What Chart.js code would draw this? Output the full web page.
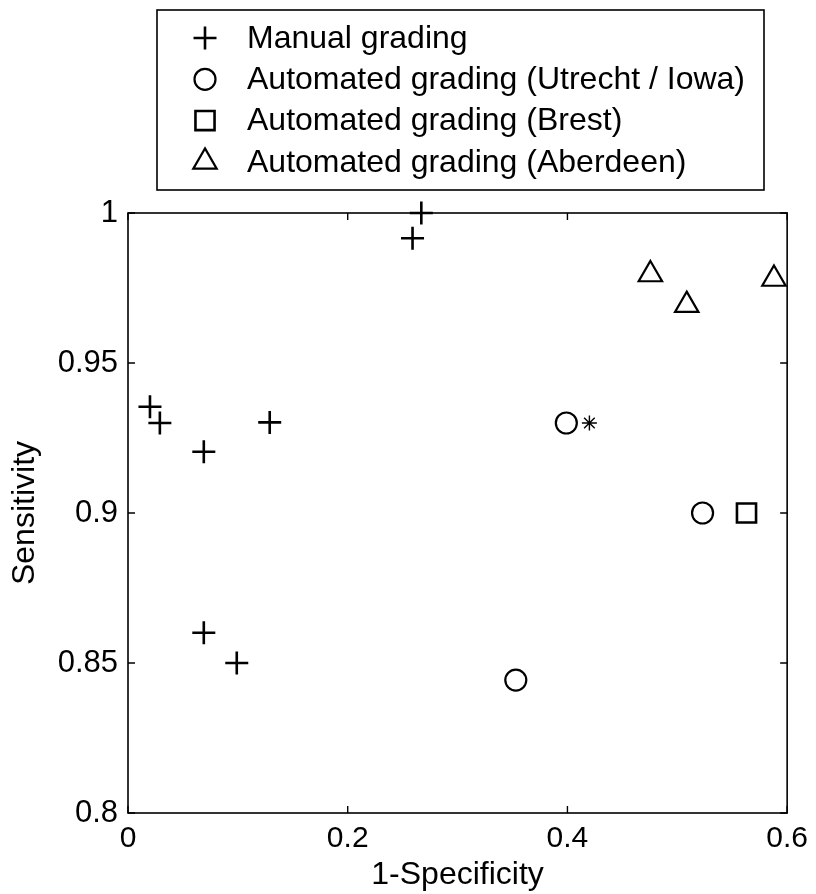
<!DOCTYPE html>
<html>
<head>
<meta charset="utf-8">
<script src="https://cdn.jsdelivr.net/npm/chart.js@4"></script>
<style>
  html, body { margin: 0; padding: 0; background: #fff; }
  #wrap { width: 816px; height: 894px; }
</style>
</head>
<body>
<div id="wrap"><canvas id="chart" width="816" height="894"></canvas></div>
<script>
'use strict';

// values
let manualX = [0.267, 0.259, 0.02, 0.029, 0.069, 0.129, 0.069, 0.099];
let manualY = [1.0, 0.9916, 0.9354, 0.93, 0.9204, 0.9302, 0.8601, 0.85];
let utrechtX = [0.399, 0.523, 0.353];
let utrechtY = [0.93, 0.90, 0.8443];
let brestX = [0.563];
let brestY = [0.90];
let aberdeenX = [0.4755, 0.5086, 0.588];
let aberdeenY = [0.9795, 0.9693, 0.978];
let starX = [0.42];
let starY = [0.93];

let xTicks = [0, 0.2, 0.4, 0.6];
let yTicks = [0.8, 0.85, 0.9, 0.95, 1];

let legendLabels = [
  'Manual grading',
  'Automated grading (Utrecht / Iowa)',
  'Automated grading (Brest)',
  'Automated grading (Aberdeen)'
];

const FONT = '"Liberation Sans", Arial, Helvetica, sans-serif';

function pts(xs, ys) {
  return xs.map((x, i) => ({ x: x, y: ys[i] }));
}

let markers = [
  { style: 'cross', radius: 11.5, width: 2.6 },
  { style: 'circle', radius: 10.5, width: 2.2 },
  { style: 'rect', radius: 13.5, width: 2.6 },
  { style: 'triangle', radius: 13.5, width: 2.2 }
];

function makeSet(label, data, m) {
  return {
    label: label,
    data: data,
    showLine: false,
    clip: false,
    pointStyle: m.style,
    pointRadius: m.radius,
    pointHoverRadius: m.radius,
    pointBorderWidth: m.width,
    borderColor: '#000',
    backgroundColor: 'rgba(0,0,0,0)'
  };
}

// white background, box round the axes, inward ticks and the legend box
let matlabLook = {
  id: 'matlabLook',
  beforeDraw(chart) {
    let c = chart.ctx;
    c.save();
    c.fillStyle = '#fff';
    c.fillRect(0, 0, chart.width, chart.height);
    c.restore();
  },
  afterDraw(chart) {
    let c = chart.ctx;
    let a = chart.chartArea;
    let xs = chart.scales.x;
    let ys = chart.scales.y;
    c.save();
    c.strokeStyle = '#000';
    c.lineWidth = 1.6;
    c.strokeRect(a.left, a.top, a.right - a.left, a.bottom - a.top);
    c.lineWidth = 1.4;
    let t = 7;
    c.beginPath();
    xTicks.forEach(v => {
      let px = xs.getPixelForValue(v);
      c.moveTo(px, a.bottom); c.lineTo(px, a.bottom - t);
      c.moveTo(px, a.top); c.lineTo(px, a.top + t);
    });
    yTicks.forEach(v => {
      let py = ys.getPixelForValue(v);
      c.moveTo(a.left, py); c.lineTo(a.left + t, py);
      c.moveTo(a.right, py); c.lineTo(a.right - t, py);
    });
    c.stroke();

    // legend
    c.lineWidth = 1.6;
    c.strokeRect(157, 10, 607, 180);
    c.font = '32px ' + FONT;
    c.textBaseline = 'middle';
    c.textAlign = 'left';
    for (let i = 0; i < legendLabels.length; i++) {
      let y = 38 + i * 41.3;
      let m = markers[i];
      c.strokeStyle = '#000';
      c.fillStyle = 'rgba(0,0,0,0)';
      c.lineWidth = m.width;
      Chart.helpers.drawPoint(c, { pointStyle: m.style, radius: m.radius, borderWidth: m.width }, 205, y);
      c.fillStyle = '#000';
      c.fillText(legendLabels[i], 247, y + 1);
    }
    c.restore();
  }
};

let ctx = document.getElementById('chart').getContext('2d');

let chartObject = new Chart(ctx, {
  type: 'scatter',
  data: {
    datasets: [
      makeSet(legendLabels[0], pts(manualX, manualY), markers[0]),
      makeSet(legendLabels[1], pts(utrechtX, utrechtY), markers[1]),
      makeSet(legendLabels[2], pts(brestX, brestY), markers[2]),
      makeSet(legendLabels[3], pts(aberdeenX, aberdeenY), markers[3]),
      makeSet('*', pts(starX, starY), { style: 'star', radius: 7.5, width: 1.4 })
    ]
  },
  options: {
    responsive: false,
    animation: false,
    devicePixelRatio: 1,
    layout: {
      padding: { top: 213, right: 26, bottom: 0, left: 0 }
    },
    plugins: {
      legend: { display: false },
      tooltip: { enabled: false }
    },
    scales: {
      x: {
        type: 'linear',
        min: 0,
        max: 0.6,
        afterFit(scale) { scale.height = 81; },
        afterBuildTicks(scale) { scale.ticks = xTicks.map(v => ({ value: v })); },
        grid: { display: false, drawTicks: false },
        border: { display: false },
        ticks: {
          color: '#000',
          padding: 8,
          font: { family: FONT, size: 30 },
          callback: v => String(v)
        },
        title: {
          display: true,
          text: '1-Specificity',
          color: '#000',
          padding: 0,
          font: { family: FONT, size: 32 }
        }
      },
      y: {
        type: 'linear',
        min: 0.8,
        max: 1,
        afterFit(scale) { scale.width = 128; },
        afterBuildTicks(scale) { scale.ticks = yTicks.map(v => ({ value: v })); },
        grid: { display: false, drawTicks: false },
        border: { display: false },
        ticks: {
          color: '#000',
          padding: 10,
          font: { family: FONT, size: 31 },
          callback: v => String(v)
        },
        title: {
          display: true,
          text: 'Sensitivity',
          color: '#000',
          padding: { top: 6, bottom: 0 },
          font: { family: FONT, size: 32 }
        }
      }
    }
  },
  plugins: [matlabLook]
});
</script>
</body>
</html>
